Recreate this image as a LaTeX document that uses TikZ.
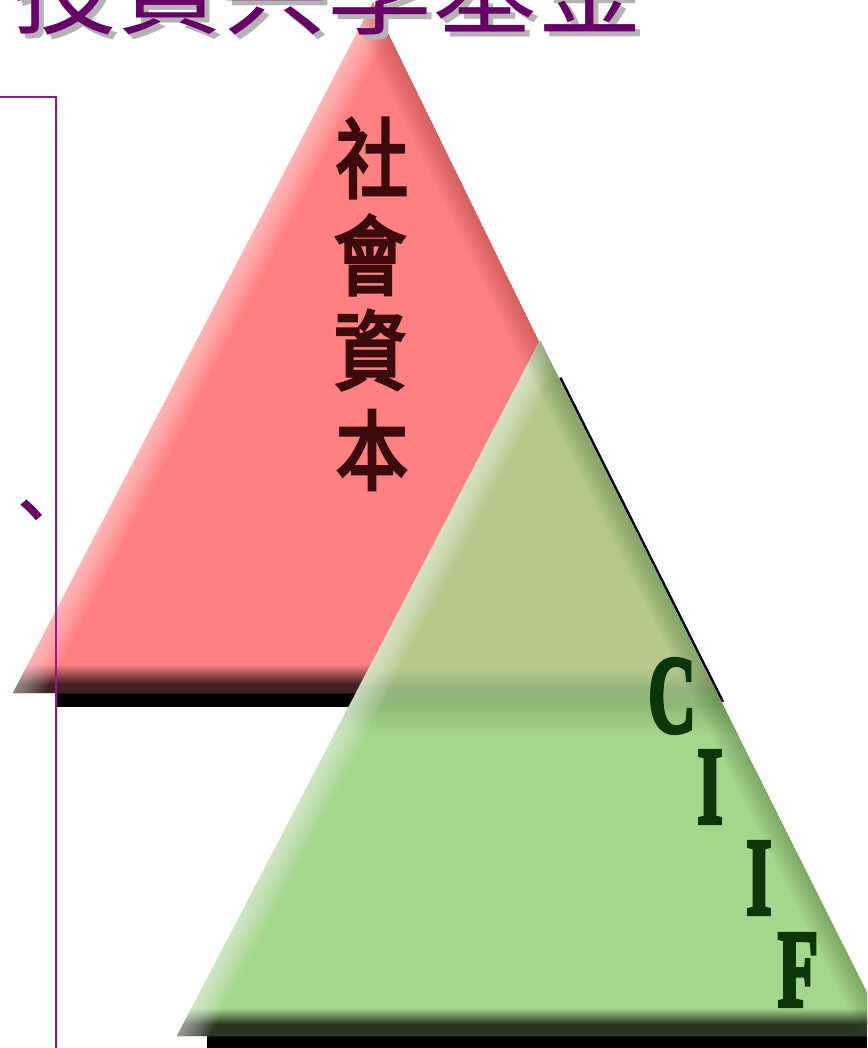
\documentclass[tikz,border=0pt]{standalone}
\usepackage{fontspec}
\usetikzlibrary{calc}
\newfontfamily\cjk[AutoFakeBold=4]{Noto Sans CJK TC}
\newfontfamily\cjklight{Noto Sans CJK TC}
\newfontfamily\latinb[FakeBold=4]{Liberation Serif}
\definecolor{redbase}{RGB}{255,128,128}
\definecolor{reddark}{RGB}{140,45,45}
\definecolor{redband}{RGB}{64,32,32}
\definecolor{greenbase}{RGB}{163,215,139}
\definecolor{overlapc}{RGB}{181,201,138}
\definecolor{olivedark}{RGB}{150,181,124}
\definecolor{greenmid}{RGB}{140,187,120}
\definecolor{greendark}{RGB}{60,90,40}
\definecolor{greenband}{RGB}{42,54,36}
\definecolor{textred}{RGB}{60,10,10}
\definecolor{textgreen}{RGB}{10,55,10}
\definecolor{titlepurple}{RGB}{102,0,102}
\definecolor{framepurple}{RGB}{150,20,150}
\definecolor{shadowgray}{RGB}{180,180,180}
\tikzset{
  cjkred/.style={text=textred, inner sep=0pt, font=\cjk\bfseries\fontsize{72}{72}\selectfont, yscale=1.2},
  ciif/.style={text=textgreen, inner sep=0pt, font=\latinb\bfseries\fontsize{110}{110}\selectfont, xscale=0.6},
  titletext/.style={anchor=base west, inner sep=0pt, font=\cjklight\fontsize{105}{105}\selectfont},
  framelinestyle/.style={draw=framepurple, line width=2pt}
}
\begin{document}
\begin{tikzpicture}[x=1pt,y=-1pt]
\useasboundingbox (0,0) rectangle (867,1048);
\clip (0,0) rectangle (867,1048);
\coordinate (R1) at (373,2);
\coordinate (R2) at (13,693);
\coordinate (R3) at (711,693);
\coordinate (G1) at (540,340);
\coordinate (G2) at (177,1036);
\coordinate (G3) at (889,1036);

% red shadow
\fill[black] (55,693) rectangle (700,707);
% red triangle
\begin{scope}
  \clip (R1)--(R2)--(R3)--cycle;
  \fill[redbase] (R1)--(R2)--(R3)--cycle;
  \shade[top color=redbase, bottom color=redband] (0,664) rectangle (867,684);
  \fill[redband] (0,683.5) rectangle (867,694);
  \foreach \i in {1,...,14}
    \draw[white, line width=4*\i pt, opacity=0.045] (R1)--(R2);
  \foreach \i in {1,...,12}
    \draw[reddark, line width=4*\i pt, opacity=0.03] (R1)--(R3);
\end{scope}

% green triangle
\fill[black] (207,1036) rectangle (867,1048);
\coordinate (E1) at ($(G1)!0.054!(G3)+(1.5,0)$);
\coordinate (E2) at ($(G1)!0.52!(G3)+(1.5,0)$);
\draw[black, line width=2.5pt] (E1) -- (E2);
\begin{scope}
  \clip (G1)--(G2)--(G3)--cycle;
  \fill[greenbase] (G1)--(G2)--(G3)--cycle;
  \begin{scope}
    \clip (R1)--(R2)--(R3)--cycle;
    \fill[overlapc] (0,300) rectangle (867,700);
  \end{scope}
  \shade[top color=overlapc, bottom color=olivedark] (0,668) rectangle (867,688);
  \shade[top color=olivedark, bottom color=greenmid] (0,687.5) rectangle (867,706);
  \shade[top color=greenmid, bottom color=greenbase] (0,705.5) rectangle (867,735);
  \shade[top color=greenbase, bottom color=greenband] (0,1008) rectangle (867,1024);
  \fill[greenband] (0,1023.5) rectangle (867,1037);
  \foreach \i in {1,...,14}
    \draw[white, line width=4*\i pt, opacity=0.05] (G1)--(G2);
  \foreach \i in {1,...,12}
    \draw[greendark, line width=4*\i pt, opacity=0.03] (G1)--(G3);
\end{scope}

% title (on top of the red apex)
\node[titletext, text=shadowgray] (titleshadow) at (17,32) {投資共享基金};
\node[titletext, text=titlepurple] (title) at (12,27) {投資共享基金};

% vertical text
\node[cjkred] (she) at (372,158) {社};
\node[cjkred] (hui) at (370,255) {會};
\node[cjkred] (zi) at (370,350) {資};
\node[cjkred] (ben) at (372,450) {本};

% CIIF
\node[ciif] (c) at (672,696) {C};
\node[ciif] (i1) at (710,787) {I};
\node[ciif] (i2) at (759,878) {I};
\node[ciif] (f) at (798,970) {F};

% frame
\draw[framelinestyle] (0,97) -- (56,97) -- (56,1049);
\node[anchor=base west, inner sep=0pt, text=titlepurple, font=\cjk\bfseries\fontsize{62}{62}\selectfont] (dun) at (0,533) {、};
\end{tikzpicture}
\end{document}
